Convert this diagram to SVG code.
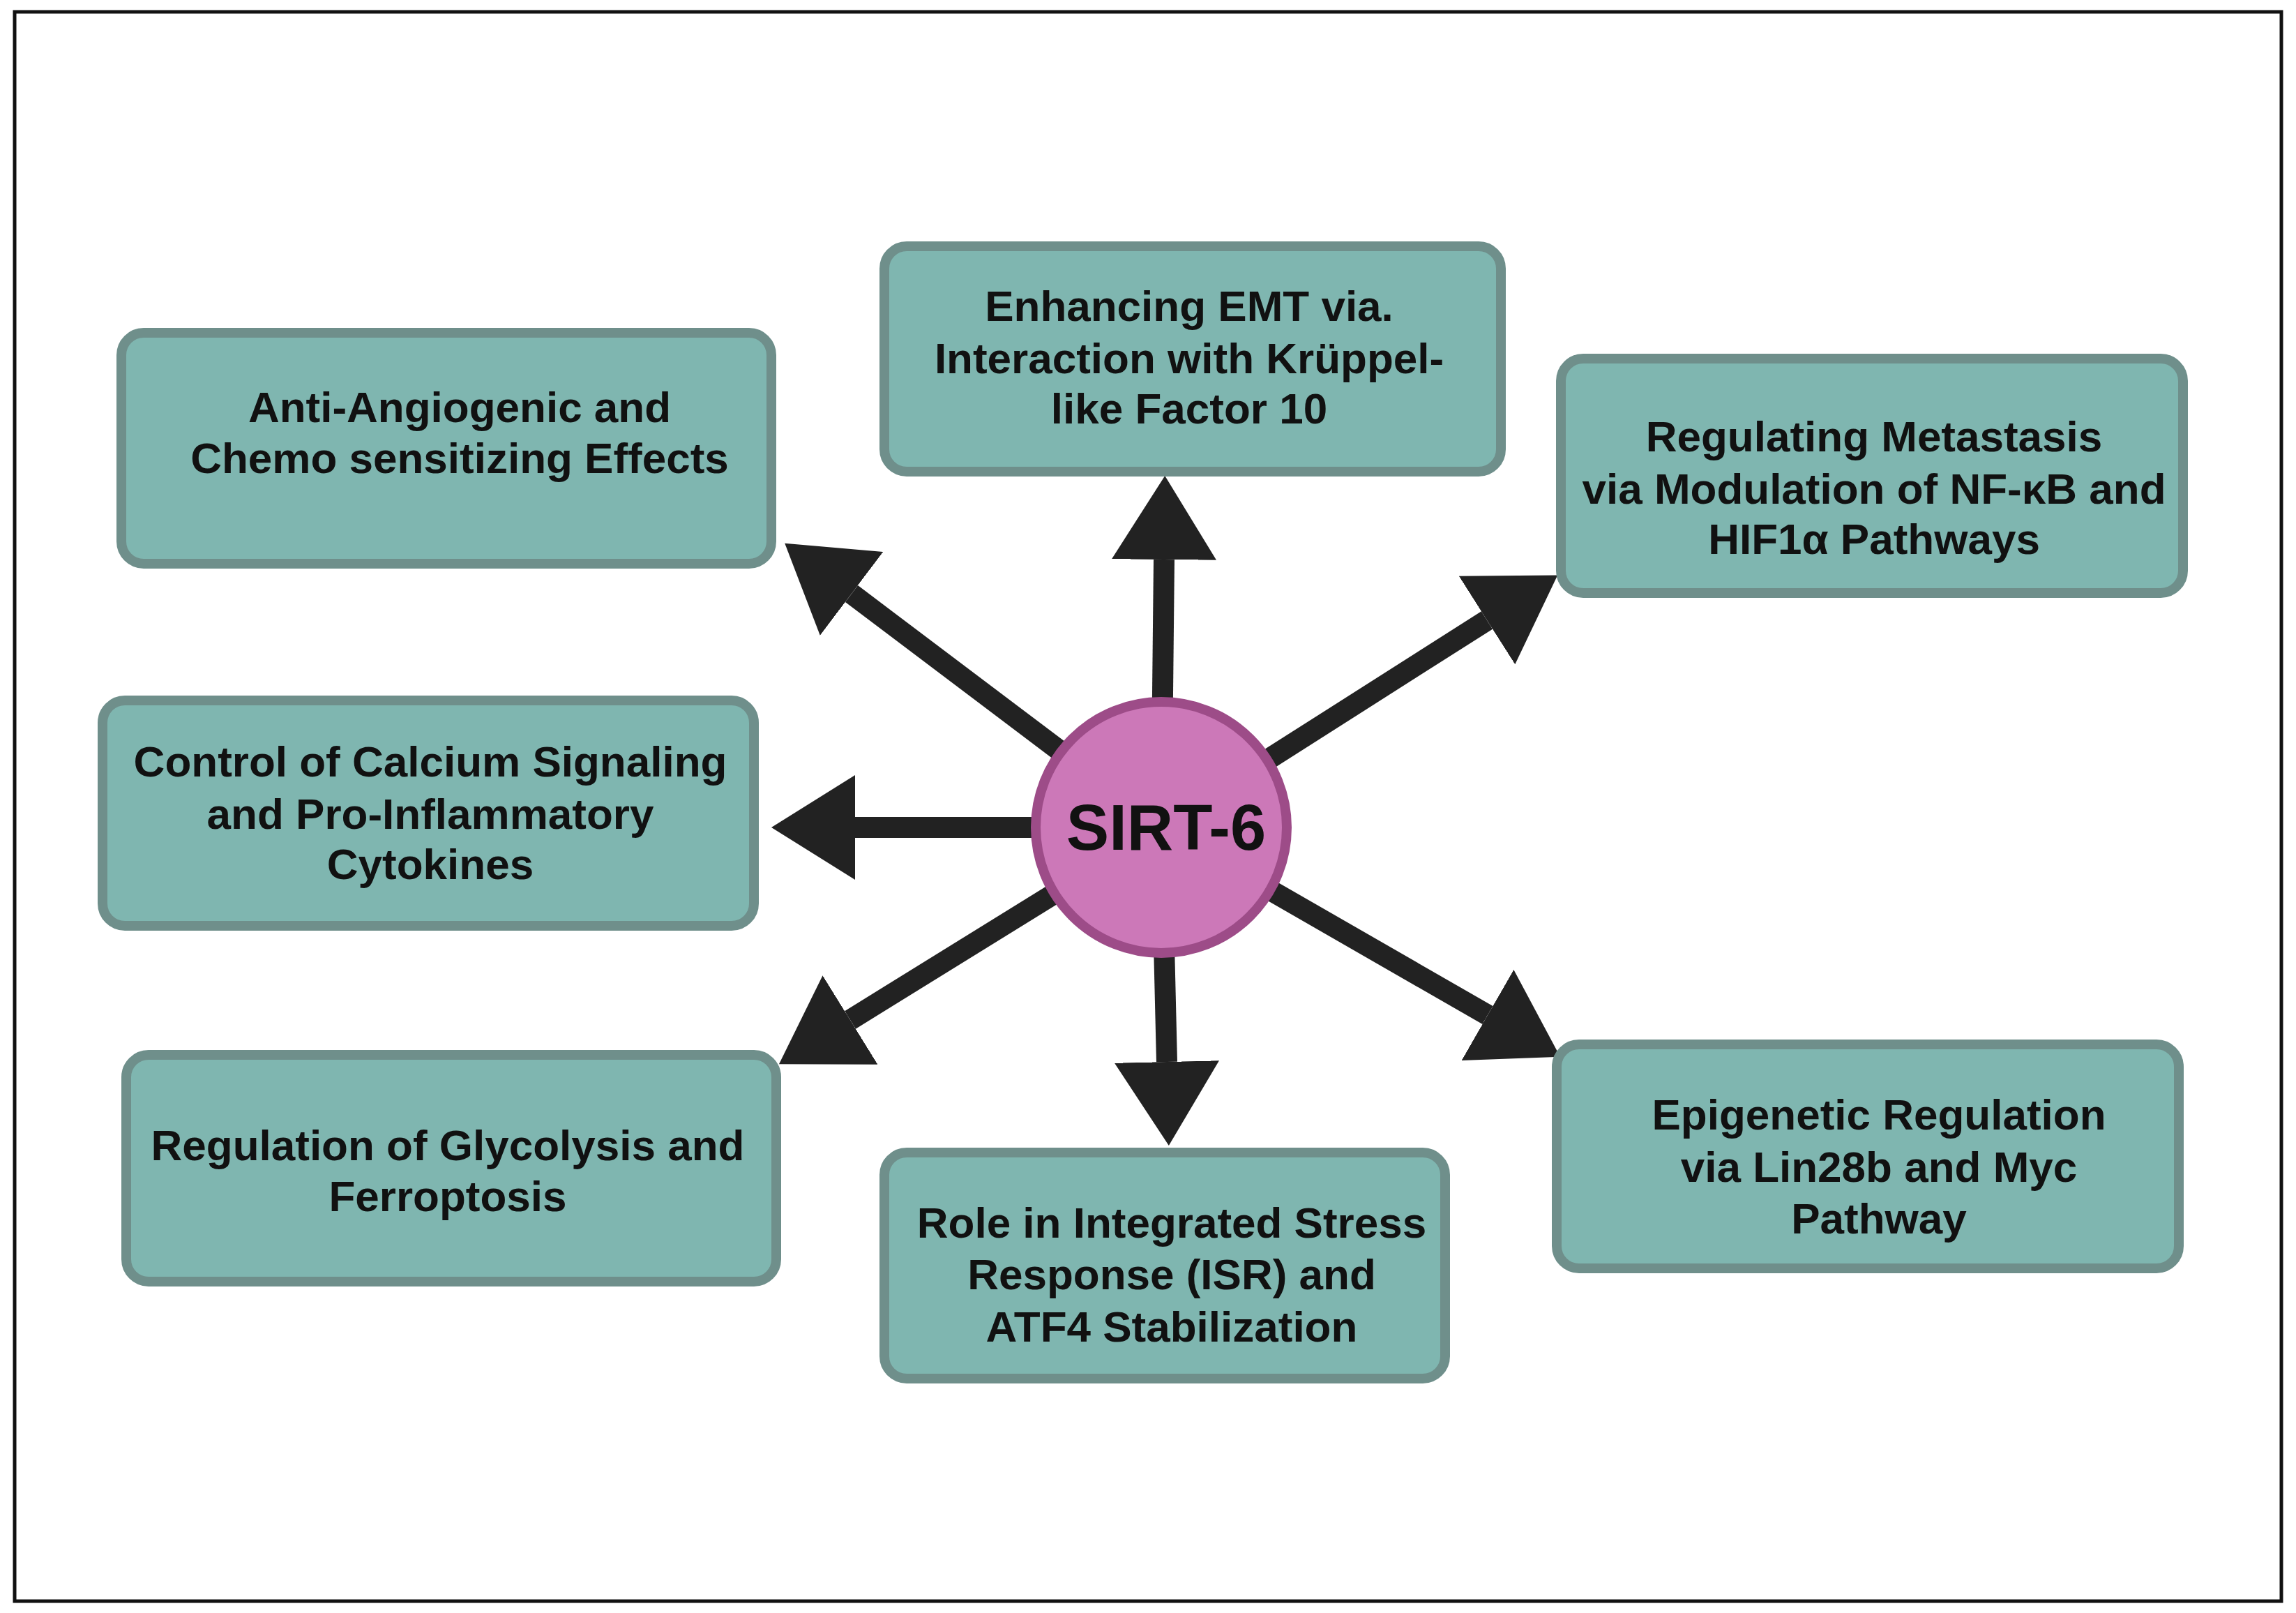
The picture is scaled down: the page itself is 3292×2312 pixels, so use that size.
<svg xmlns="http://www.w3.org/2000/svg" width="3292" height="2312" viewBox="0 0 3292 2312">
<style>
.box{fill:#7fb6b0;stroke:#6f8f8b;stroke-width:14}
.t{font-family:"Liberation Sans",Arial,sans-serif;font-weight:bold;font-size:62px;fill:#111;text-anchor:middle}
.a{stroke:#222;stroke-width:30;fill:none;marker-end:url(#ah)}
</style>
<defs>
<marker id="ah" markerUnits="userSpaceOnUse" viewBox="0 0 120 150" markerWidth="120" markerHeight="150" refX="0" refY="75" orient="auto"><path d="M0,0 L120,75 L0,150 Z" fill="#222"/></marker>
</defs>
<rect x="0" y="0" width="3292" height="2312" fill="#fff"/>
<rect x="21" y="17" width="3250" height="2278" fill="#fff" stroke="#111" stroke-width="5"/>
<g id="connectors">
<line class="a" x1="1665" y1="1186" x2="1669" y2="802"/>
<line class="a" x1="1665" y1="1186" x2="1221" y2="851"/>
<line class="a" x1="1665" y1="1186" x2="2132" y2="889"/>
<line class="a" x1="1665" y1="1186" x2="1226" y2="1186"/>
<line class="a" x1="1665" y1="1186" x2="1219" y2="1462"/>
<line class="a" x1="1665" y1="1186" x2="1673" y2="1522"/>
<line class="a" x1="1665" y1="1186" x2="2133" y2="1455"/>
</g>
<g id="n1"><rect class="box" x="174" y="477" width="932" height="331" rx="32"/>
<text class="t" x="659" y="605">Anti-Angiogenic and</text><text class="t" x="659" y="678">Chemo sensitizing Effects</text></g>
<g id="n2"><rect class="box" x="1268" y="353" width="884" height="323" rx="32"/>
<text class="t" x="1705" y="460">Enhancing EMT via.</text><text class="t" x="1705" y="535">Interaction with Krüppel-</text><text class="t" x="1705" y="607">like Factor 10</text></g>
<g id="n3"><rect class="box" x="2238" y="514" width="892" height="336" rx="32"/>
<text class="t" x="2687" y="647">Regulating Metastasis</text><text class="t" x="2687" y="722">via Modulation of NF-κB and</text><text class="t" x="2687" y="794">HIF1α Pathways</text></g>
<g id="n4"><rect class="box" x="147" y="1004" width="934" height="323" rx="32"/>
<text class="t" x="617" y="1113">Control of Calcium Signaling</text><text class="t" x="617" y="1188">and Pro-Inflammatory</text><text class="t" x="617" y="1260">Cytokines</text></g>
<g id="n5"><rect class="box" x="181" y="1512" width="932" height="325" rx="32"/>
<text class="t" x="642" y="1663">Regulation of Glycolysis and</text><text class="t" x="642" y="1736">Ferroptosis</text></g>
<g id="n6"><rect class="box" x="1268" y="1652" width="804" height="324" rx="32"/>
<text class="t" x="1680" y="1774">Role in Integrated Stress</text><text class="t" x="1680" y="1848">Response (ISR) and</text><text class="t" x="1680" y="1923">ATF4 Stabilization</text></g>
<g id="n7"><rect class="box" x="2232" y="1497" width="892" height="321" rx="32"/>
<text class="t" x="2694" y="1619">Epigenetic Regulation</text><text class="t" x="2694" y="1694">via Lin28b and Myc</text><text class="t" x="2694" y="1768">Pathway</text></g>
<g id="sirt6"><circle cx="1665" cy="1186" r="180" fill="#cc78b8" stroke="#9d4c88" stroke-width="14"/>
<text class="t" x="1672" y="1218" style="font-size:92px">SIRT-6</text></g>
</svg>
